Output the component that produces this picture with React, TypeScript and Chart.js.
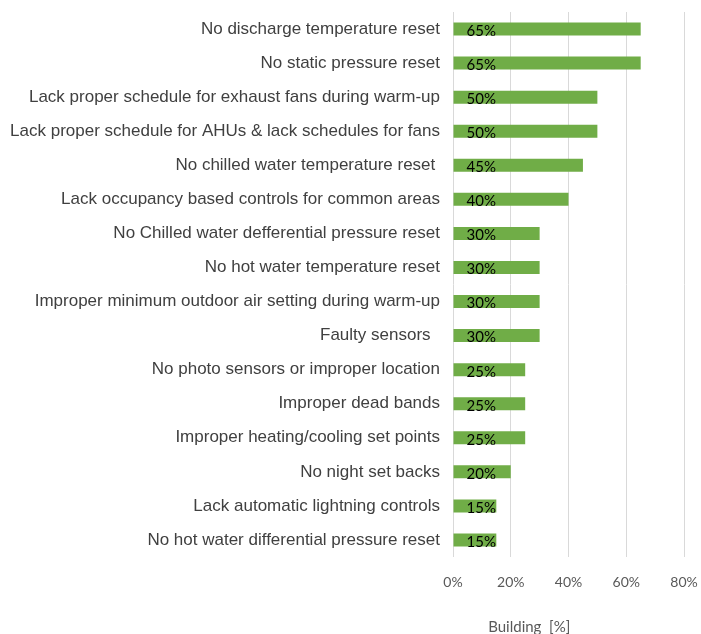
import React, { useEffect, useRef } from "react";
import { Chart, registerables } from "chart.js";

Chart.register(...registerables);

const categories: string[] = [
  "No discharge temperature reset",
  "No static pressure reset",
  "Lack proper schedule for exhaust fans during warm-up",
  "Lack proper schedule for AHUs & lack schedules for fans",
  "No chilled water temperature reset ",
  "Lack occupancy based controls for common areas",
  "No Chilled water defferential pressure reset",
  "No hot water temperature reset",
  "Improper minimum outdoor air setting during warm-up",
  "Faulty sensors  ",
  "No photo sensors or improper location",
  "Improper dead bands",
  "Improper heating/cooling set points",
  "No night set backs",
  "Lack automatic lightning controls",
  "No hot water differential pressure reset",
];

const values: number[] = [65, 65, 50, 50, 45, 40, 30, 30, 30, 30, 25, 25, 25, 20, 15, 15];

const xTickValues: number[] = [0, 20, 40, 60, 80];
const axisTitle = "Building  [%]";

const LABEL_FONT = "'Liberation Sans', Arial, sans-serif";
const NUM_FONT = "Lato, 'Open Sans', sans-serif";

const dataLabelPlugin = {
  id: "dataLabels",
  afterDatasetsDraw(chart: any) {
    const ctx = chart.ctx;
    const meta = chart.getDatasetMeta(0);
    ctx.save();
    ctx.font = `15px ${NUM_FONT}`;
    ctx.fillStyle = "#000000";
    ctx.textAlign = "left";
    ctx.textBaseline = "middle";
    meta.data.forEach((bar: any, i: number) => {
      ctx.fillText(`${values[i]}%`, bar.base + 13, bar.y + 2);
    });
    ctx.restore();
  },
};

const axisTitlePlugin = {
  id: "axisTitle",
  afterDraw(chart: any) {
    const ctx = chart.ctx;
    const area = chart.chartArea;
    ctx.save();
    ctx.font = `15px ${NUM_FONT}`;
    ctx.fillStyle = "#595959";
    ctx.textAlign = "center";
    ctx.textBaseline = "middle";
    const x = area.left + (area.right - area.left) * 0.33;
    ctx.fillText(axisTitle, x, area.bottom + 70);
    ctx.restore();
  },
};

export default function App() {
  const ref = useRef<HTMLCanvasElement | null>(null);

  useEffect(() => {
    document.body.style.margin = "0";
    if (!ref.current) return;
    const chart = new Chart(ref.current, {
      type: "bar",
      data: {
        labels: categories,
        datasets: [
          {
            data: values,
            backgroundColor: "#70AD47",
            borderWidth: 0,
            categoryPercentage: 1,
            barPercentage: 0.38,
          },
        ],
      },
      options: {
        indexAxis: "y",
        animation: false,
        responsive: false,
        maintainAspectRatio: false,
        layout: { padding: { top: 12, right: 17, left: 0, bottom: 0 } },
        plugins: {
          legend: { display: false },
          tooltip: { enabled: false },
        },
        scales: {
          x: {
            min: 0,
            max: 80,
            afterBuildTicks: (scale: any) => {
              scale.ticks = xTickValues.map((v) => ({ value: v }));
            },
            afterFit: (scale: any) => {
              scale.height = 77;
              scale.paddingLeft = 0;
              scale.paddingRight = 0;
            },
            ticks: {
              callback: (v: any) => `${v}%`,
              color: "#595959",
              font: { family: NUM_FONT, size: 14 },
              padding: 17,
              maxRotation: 0,
            },
            grid: { color: "#d9d9d9", lineWidth: 1, drawTicks: false },
            border: { display: false },
          },
          y: {
            afterFit: (scale: any) => {
              scale.width = 453;
              scale.paddingTop = 0;
              scale.paddingBottom = 0;
            },
            ticks: {
              color: "#404040",
              font: { family: LABEL_FONT, size: 17 },
              padding: 13,
              autoSkip: false,
            },
            grid: { display: false, drawTicks: false },
            border: { display: false },
          },
        },
      },
      plugins: [dataLabelPlugin, axisTitlePlugin],
    } as any);
    return () => chart.destroy();
  }, []);

  return (
    <div style={{ width: 701, height: 634 }}>
      <canvas ref={ref} width={701} height={634} style={{ width: 701, height: 634, display: "block" }} />
    </div>
  );
}
